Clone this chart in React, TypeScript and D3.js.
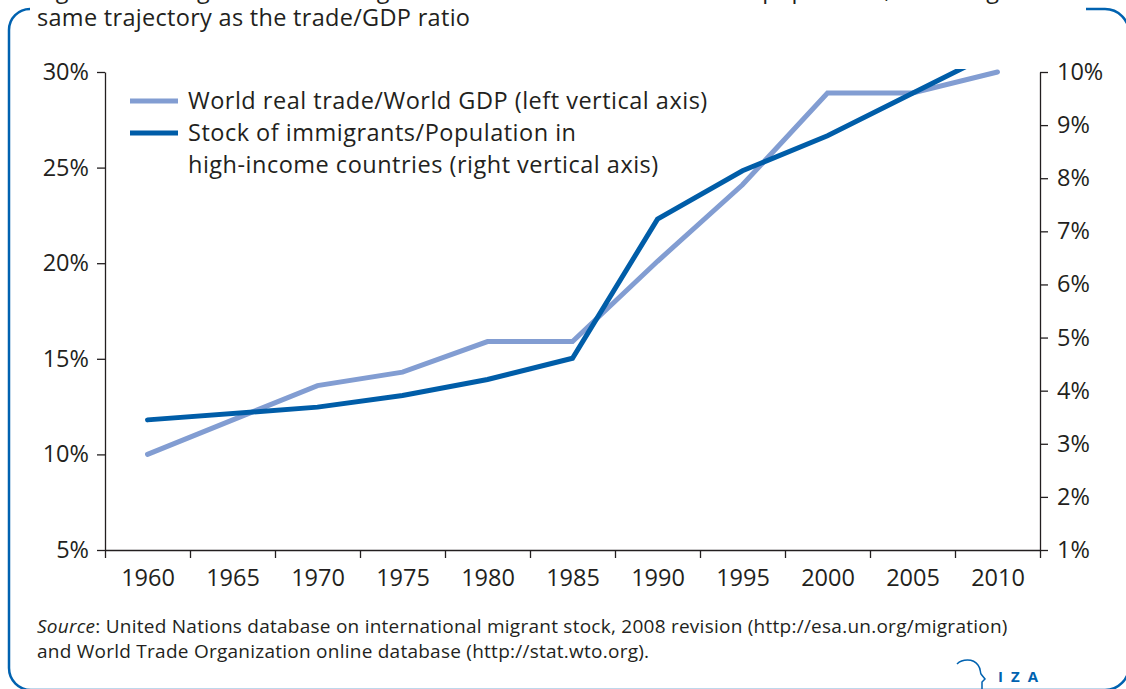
import { useEffect, useRef } from 'react';
import * as d3 from 'd3';

// data
const years = [1960, 1970, 1975, 1980, 1985, 1990, 1995, 2000, 2005, 2010];
const tradeGdp = [10.0, 13.6, 14.3, 15.9, 15.9, 20.1, 24.1, 28.9, 28.9, 30.0];
const immigrantShare = [3.45, 3.69, 3.91, 4.21, 4.61, 7.23, 8.14, 8.8, 9.6, 10.4];

const yearLabels = [1960, 1965, 1970, 1975, 1980, 1985, 1990, 1995, 2000, 2005, 2010];
const leftTicks = [5, 10, 15, 20, 25, 30];
const rightTicks = [1, 2, 3, 4, 5, 6, 7, 8, 9, 10];

const legendLabels = [
  ['World real trade/World GDP (left vertical axis)'],
  ['Stock of immigrants/Population in', 'high-income countries (right vertical axis)'],
];

const titleLines = [
  'Figure 1. Immigrant stock in high-income countries as a share of population, following the',
  'same trajectory as the trade/GDP ratio',
];

const FONT = '"Open Sans", "Noto Sans", sans-serif';
const INK = '#231f20';
const LIGHT = '#829dd2';
const DARK = '#005da8';
const FRAME = '#0062b0';

export default function App() {
  const ref = useRef<SVGSVGElement | null>(null);

  useEffect(() => {
    if (!ref.current) return;
    const svg = d3.select(ref.current);
    svg.selectAll('*').remove();

    const left = 105;
    const right = 1040;
    const top = 72;
    const bottom = 550;

    // years sit in the middle of 5-year bands, ticks on the band edges
    const x = d3.scaleLinear().domain([1957.5, 2012.5]).range([left, right]);
    const yL = d3.scaleLinear().domain([5, 30]).range([bottom, top]);
    const yR = d3.scaleLinear().domain([1, 10]).range([bottom, top]);

    // frame
    svg
      .append('path')
      .attr(
        'd',
        'M 30 9 A 21 21 0 0 0 9 30 L 9 668 A 22 22 0 0 0 31 690 L 1105 690 A 24 24 0 0 0 1129 666 L 1129 33 A 24 24 0 0 0 1105 9 L 1086 9'
      )
      .attr('fill', 'none')
      .attr('stroke', FRAME)
      .attr('stroke-width', 2.5);

    // title (first line runs off the top of the crop)
    titleLines.forEach((t, i) => {
      svg
        .append('text')
        .attr('x', 37)
        .attr('y', -2 + i * 28)
        .attr('font-family', FONT)
        .attr('font-size', 23.5)
        .attr('letter-spacing', 0.3)
        .attr('fill', INK)
        .text(t);
    });

    const axisStyle = (g: d3.Selection<SVGGElement, unknown, null, undefined>) => {
      g.selectAll('path, line').attr('stroke', INK).attr('stroke-width', 1.3);
      g.selectAll('text').attr('font-family', FONT).attr('fill', INK);
    };

    // bottom axis: ticks at band edges
    const edges = yearLabels.map((d) => d - 2.5).concat([2012.5]);
    svg
      .append('g')
      .attr('transform', `translate(0,${bottom})`)
      .call(
        d3
          .axisBottom(x)
          .tickValues(edges)
          .tickSize(8)
          .tickSizeOuter(0)
          .tickFormat(() => '')
      )
      .call(axisStyle);

    svg
      .append('g')
      .attr('transform', `translate(0,${bottom})`)
      .call(
        d3
          .axisBottom(x)
          .tickValues(yearLabels)
          .tickSize(0)
          .tickPadding(19)
          .tickFormat((d) => String(d))
      )
      .call(axisStyle)
      .call((g) => g.select('.domain').remove())
      .selectAll('text')
      .attr('font-size', 23.5);

    svg
      .append('g')
      .attr('transform', `translate(${left},0)`)
      .call(
        d3
          .axisLeft(yL)
          .tickValues(leftTicks)
          .tickSize(8)
          .tickSizeOuter(0)
          .tickPadding(8)
          .tickFormat((d) => `${d}%`)
      )
      .call(axisStyle)
      .selectAll('text')
      .attr('font-size', 23.5);

    svg
      .append('g')
      .attr('transform', `translate(${right},0)`)
      .call(
        d3
          .axisRight(yR)
          .tickValues(rightTicks)
          .tickSize(8)
          .tickSizeOuter(0)
          .tickPadding(9)
          .tickFormat((d) => `${d}%`)
      )
      .call(axisStyle)
      .selectAll('text')
      .attr('font-size', 23.5);

    // clip so the immigrant line stops at the top of the plot
    svg
      .append('clipPath')
      .attr('id', 'plot-clip')
      .append('rect')
      .attr('x', left)
      .attr('y', top - 3)
      .attr('width', right - left)
      .attr('height', bottom - top + 3);

    const lineL = d3
      .line<number>()
      .x((_, i) => x(years[i]))
      .y((d) => yL(d));
    const lineR = d3
      .line<number>()
      .x((_, i) => x(years[i]))
      .y((d) => yR(d));

    svg
      .append('path')
      .attr('d', lineL(tradeGdp) as string)
      .attr('fill', 'none')
      .attr('stroke', LIGHT)
      .attr('stroke-width', 5)
      .attr('stroke-linecap', 'round');

    svg
      .append('path')
      .attr('clip-path', 'url(#plot-clip)')
      .attr('d', lineR(immigrantShare) as string)
      .attr('fill', 'none')
      .attr('stroke', DARK)
      .attr('stroke-width', 5)
      .attr('stroke-linecap', 'round');

    // legend
    const legendColors = [LIGHT, DARK];
    const legendY = [101, 133];
    legendLabels.forEach((lines, i) => {
      svg
        .append('line')
        .attr('x1', 130)
        .attr('x2', 178)
        .attr('y1', legendY[i])
        .attr('y2', legendY[i])
        .attr('stroke', legendColors[i])
        .attr('stroke-width', 5);
      lines.forEach((t, j) => {
        svg
          .append('text')
          .attr('x', 188)
          .attr('y', legendY[i] + 8 + j * 32)
          .attr('font-family', FONT)
          .attr('font-size', 23.5)
          .attr('letter-spacing', 0.5)
          .attr('fill', INK)
          .text(t);
      });
    });

    // source note
    const src = svg
      .append('text')
      .attr('x', 37)
      .attr('y', 633)
      .attr('font-family', FONT)
      .attr('font-size', 19)
      .attr('letter-spacing', 0.25)
      .attr('fill', INK);
    src.append('tspan').attr('font-style', 'italic').text('Source');
    src
      .append('tspan')
      .text(': United Nations database on international migrant stock, 2008 revision (http://esa.un.org/migration)');
    svg
      .append('text')
      .attr('x', 37)
      .attr('y', 658)
      .attr('font-family', FONT)
      .attr('font-size', 19)
      .attr('letter-spacing', 0.25)
      .attr('fill', INK)
      .text('and World Trade Organization online database (http://stat.wto.org).');

    // IZA mark
    svg
      .append('path')
      .attr('d', 'M 957 664 C 962 659, 973 658, 978 665 C 981 669, 980 672, 981 674 L 985 679 L 982 682 L 982 689')
      .attr('fill', 'none')
      .attr('stroke', FRAME)
      .attr('stroke-width', 1.5);
    svg
      .append('text')
      .attr('x', 998)
      .attr('y', 682)
      .attr('font-family', FONT)
      .attr('font-size', 15)
      .attr('font-weight', 'bold')
      .attr('letter-spacing', 8)
      .attr('fill', FRAME)
      .text('IZA');
  }, []);

  return (
    <svg
      ref={ref}
      width={1126}
      height={689}
      viewBox="0 0 1126 689"
      style={{ position: 'absolute', left: 0, top: 0, background: '#fff' }}
    />
  );
}
